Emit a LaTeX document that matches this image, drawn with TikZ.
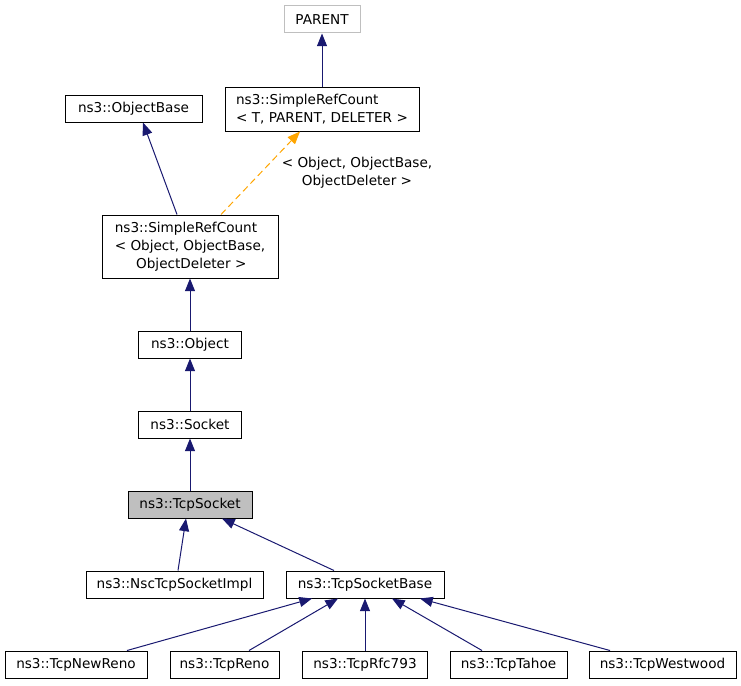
\documentclass[tikz,border=0pt]{standalone}
\usepackage{fontspec}
\setmainfont{DejaVu Sans}
\usetikzlibrary{arrows.meta}
\definecolor{edgeblue}{HTML}{191970}
\definecolor{tmplorange}{HTML}{FFA500}
\definecolor{boxgray}{HTML}{BFBFBF}
\definecolor{parentgray}{HTML}{BFBFBF}
\tikzset{
  lblfont/.style={font=\fontsize{10.2}{13.5}\selectfont},
  cls/.style={draw=black, line width=0.75pt, fill=white, inner sep=0pt, minimum height=20.25pt,
    lblfont, align=center},
  inh/.style={draw=edgeblue, line width=0.75pt, -{Triangle[length=9.5pt,width=7.5pt]}},
  tmpl/.style={draw=tmplorange, line width=0.75pt, dash pattern=on 5pt off 3pt,
    -{Triangle[length=9.5pt,width=7.5pt]}},
}
\begin{document}
\begin{tikzpicture}[x=0.75pt,y=-0.75pt]
\useasboundingbox (0,0) rectangle (741,685);
\node[cls, draw=parentgray, minimum width=57pt] (parent) at (322,19.5) {PARENT};
\node[cls, minimum width=145.5pt, minimum height=33pt, align=left] (srct) at (322,109) {ns3::SimpleRefCount\\< T, PARENT, DELETER >};
\node[cls, minimum width=102.75pt] (objbase) at (133.5,108.5) {ns3::ObjectBase};
\node[cls, minimum width=132pt, minimum height=47.25pt, align=left] (srco) at (190,246.5) {ns3::SimpleRefCount\\< Object, ObjectBase,\\\hspace*{16pt}ObjectDeleter >};
\node[cls, minimum width=77.25pt] (object) at (190,344.5) {ns3::Object};
\node[cls, minimum width=77.25pt] (socket) at (190,424.5) {ns3::Socket};
\node[cls, fill=boxgray, minimum width=93pt] (tcpsocket) at (190,504.5) {ns3::TcpSocket};
\node[cls, minimum width=132.75pt] (nsc) at (174.5,584.5) {ns3::NscTcpSocketImpl};
\node[cls, minimum width=118.5pt] (tsb) at (365,584.5) {ns3::TcpSocketBase};
\node[cls, minimum width=106.5pt] (newreno) at (76,664.5) {ns3::TcpNewReno};
\node[cls, minimum width=81.75pt] (reno) at (224.5,664.5) {ns3::TcpReno};
\node[cls, minimum width=93.75pt] (rfc) at (365,664.5) {ns3::TcpRfc793};
\node[cls, minimum width=87.75pt] (tahoe) at (508.5,664.5) {ns3::TcpTahoe};
\node[cls, minimum width=110.25pt] (westwood) at (662.5,664.5) {ns3::TcpWestwood};
\node[lblfont, align=center, inner sep=0pt] (lbl) at (357,173) {< Object, ObjectBase,\\ObjectDeleter >};

\draw[inh] (srct.north) -- (parent.south);
\draw[inh] ([xshift=-9.75pt]srco.north) -- ([xshift=7.125pt]objbase.south);
\draw[tmpl] ([xshift=23.25pt]srco.north) -- ([xshift=-16.5pt]srct.south);
\draw[inh] (object.north) -- (srco.south);
\draw[inh] (socket.north) -- (object.south);
\draw[inh] (tcpsocket.north) -- (socket.south);
\draw[inh] ([xshift=2.625pt]nsc.north) -- ([xshift=-3pt]tcpsocket.south);
\draw[inh] ([xshift=-23.25pt]tsb.north) -- ([xshift=24pt]tcpsocket.south);
\draw[inh] ([xshift=38.25pt]newreno.north) -- ([xshift=-39.75pt]tsb.south);
\draw[inh] ([xshift=18.375pt]reno.north) -- ([xshift=-20.25pt]tsb.south);
\draw[inh] (rfc.north) -- (tsb.south);
\draw[inh] ([xshift=-19.875pt]tahoe.north) -- ([xshift=20.25pt]tsb.south);
\draw[inh] ([xshift=-39.375pt]westwood.north) -- ([xshift=41.25pt]tsb.south);
\end{tikzpicture}
\end{document}
